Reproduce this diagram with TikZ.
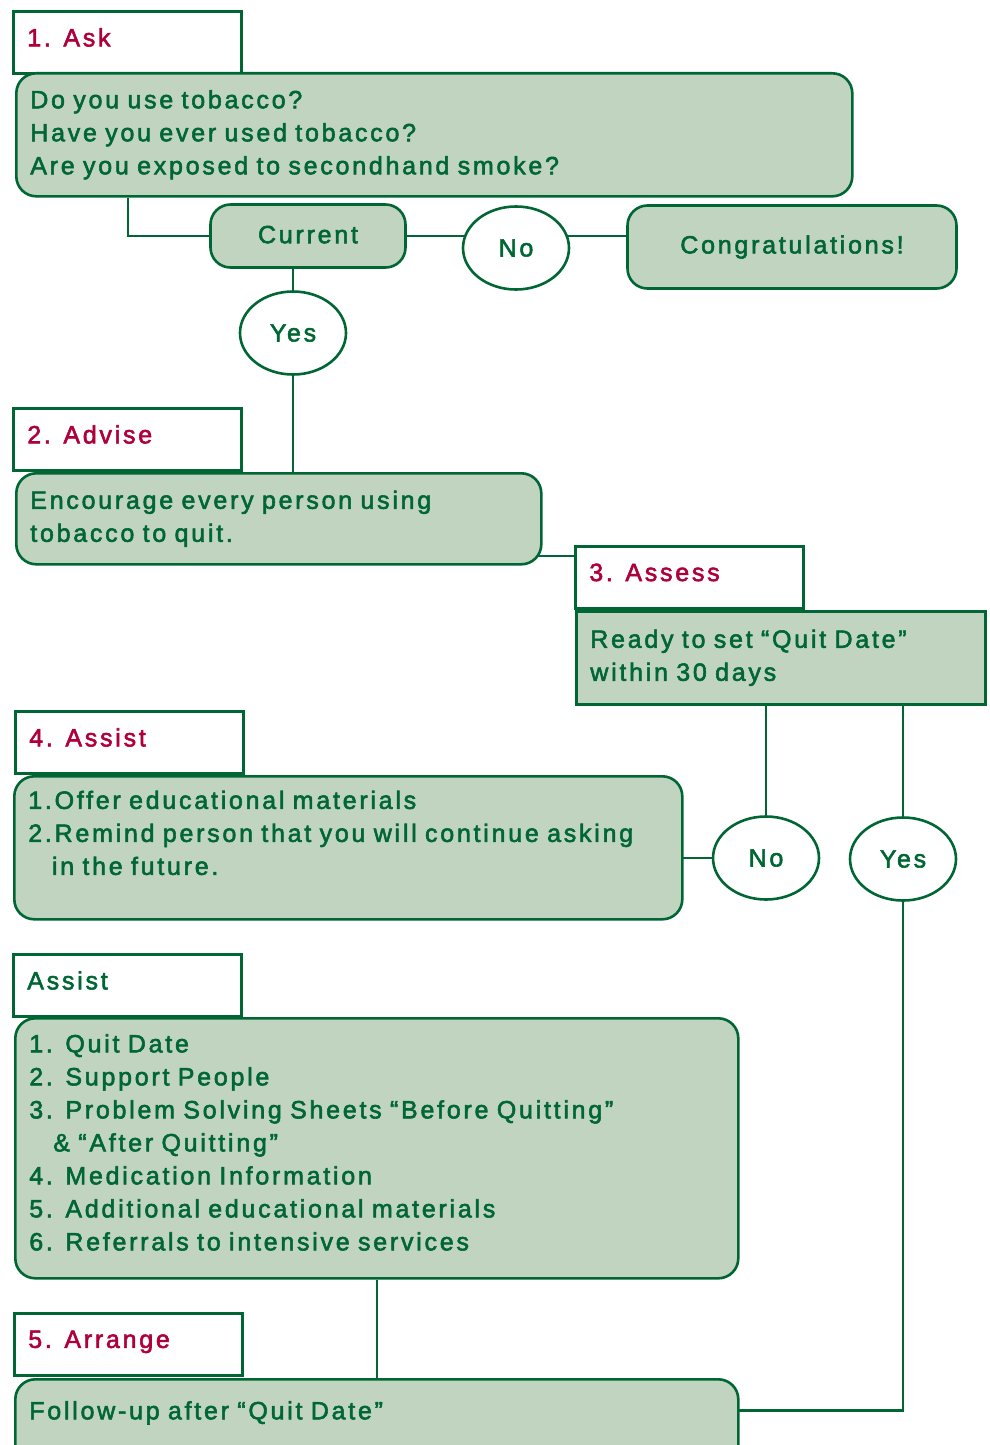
\documentclass[tikz,border=0pt]{standalone}
\usepackage{fontspec}
\setmainfont{Liberation Sans}[LetterSpace=11, WordSpace=1.8, FakeBold=2.2]
\usetikzlibrary{shapes.geometric,backgrounds}
\definecolor{leafgreen}{HTML}{006633}
\definecolor{sagefill}{HTML}{C0D4C0}
\definecolor{stepred}{HTML}{B0003C}

\begin{document}
\begin{tikzpicture}[x=1pt, y=-1pt, font=\fontsize{25}{33}\selectfont,
label_style/.style={draw=leafgreen, fill=white, line width=2.6pt, anchor=north west, minimum height=62pt, text width=200pt, inner xsep=14pt, align=left, text=stepred, text depth=10pt},
body_style/.style={draw=leafgreen, fill=sagefill, line width=2.6pt, rounded corners=20pt, anchor=north west, inner xsep=14pt, align=left, text=leafgreen},
answer_style/.style={ellipse, draw=leafgreen, fill=white, line width=2.6pt, minimum width=106pt, minimum height=83pt, inner sep=0pt, text=leafgreen},
edge_style/.style={draw=leafgreen, line width=2.6pt}]
\useasboundingbox (0,0) rectangle (990,1445);

% step 1
\node[label_style] (ask) at (12,10) {1. Ask};
\node[body_style, text width=808pt, minimum height=123pt] (askq) at (15,72)
  {Do you use tobacco?\\Have you ever used tobacco?\\Are you exposed to secondhand smoke?};
\node[body_style, align=center, text width=167pt, minimum height=63pt, anchor=center] (current) at (308,236) {\raisebox{3pt}{Current}};
\node[answer_style] (no1) at (516,248) {No};
\node[body_style, align=center, text width=301pt, minimum height=83pt, anchor=center] (congrats) at (792,247) {Congratulations!};
\node[answer_style] (yes1) at (293,333) {Yes};

% step 2
\node[label_style] (advise) at (12,407) {2. Advise};
\node[body_style, text width=497pt, minimum height=91pt] (advisetxt) at (15,472)
  {Encourage every person using\\tobacco to quit.};

% step 3
\node[label_style] (assess) at (574,545) {3. Assess};
\node[body_style, rounded corners=0pt, text width=381pt, minimum height=93pt] (assesstxt) at (575,610)
  {Ready to set “Quit Date”\\within 30 days};
\node[answer_style] (no2) at (766,858) {No};
\node[answer_style] (yes2) at (903,859) {Yes};

% step 4
\node[label_style] (assist) at (14,710) {4. Assist};
\node[body_style, text width=640pt, minimum height=143pt, text depth=96pt] (assisttxt) at (13,775)
  {1.Offer educational materials\\2.Remind person that you will continue asking\\\phantom{2.}in the future.};
\node[label_style, text=leafgreen] (assistb) at (12,953) {Assist};
\node[body_style, text width=695pt, minimum height=260pt, text depth=210pt] (assistbtxt) at (14,1017)
  {1. Quit Date\\2. Support People\\3. Problem Solving Sheets “Before Quitting”\\\hspace*{24pt}\& “After Quitting”\\4. Medication Information\\5. Additional educational materials\\6. Referrals to intensive services};

% step 5
\node[label_style] (arrange) at (13,1312) {5. Arrange};
\node[body_style, text width=695pt, text height=24pt, text depth=60pt, inner ysep=16pt] (arrangetxt) at (14,1378)
  {Follow-up after “Quit Date”};

\coordinate (assess_in) at ([yshift=-11pt]assess.north west);

\begin{scope}[on background layer]
\draw[edge_style] ([xshift=113pt]askq.south west) |- (current);
\draw[edge_style] (current) -- (current -| congrats);
\draw[edge_style] (yes1 |- current) -- (yes1);
\draw[edge_style] (yes1) -- (yes1 |- advisetxt.north);
\draw[edge_style] (assess_in) -- (assess_in -| advisetxt);
\draw[edge_style] (no2 |- assesstxt.south) -- (no2);
\draw[edge_style] (no2) -- (no2 -| assisttxt);
\draw[edge_style] (yes2 |- assesstxt.south) -- (yes2);
\draw[edge_style] (yes2) |- ([yshift=9pt]arrangetxt.text);
\draw[edge_style] (assistbtxt) -- (assistbtxt |- arrangetxt.text);
\end{scope}

\end{tikzpicture}
\end{document}
